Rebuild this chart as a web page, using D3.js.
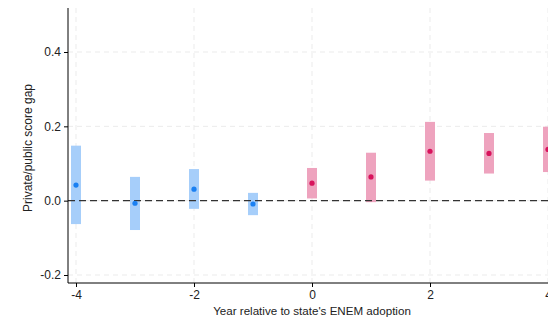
<!DOCTYPE html>
<html><head><meta charset="utf-8">
<script src="https://cdn.jsdelivr.net/npm/d3@7"></script>
<style>body{margin:0;overflow:hidden;background:#fff}svg{display:block;font-family:"Liberation Sans",Arial,sans-serif}</style>
</head><body><svg id="c" width="548" height="323"></svg>
<script>
const years = [-4,-3,-2,-1,0,1,2,3,4];
const estimates = [0.042,-0.007,0.031,-0.009,0.047,0.064,0.133,0.127,0.138];
const ciLow = [-0.063,-0.079,-0.022,-0.039,0.006,-0.004,0.054,0.073,0.077];
const ciHigh = [0.148,0.064,0.085,0.021,0.088,0.129,0.212,0.182,0.199];
const xTicks = [-4,-2,0,2,4];
const yTicks = [-0.2,0.0,0.2,0.4];

(function(){
const svg = d3.select("#c");
const x = d3.scaleLinear().domain([-4,4]).range([76,548]);
const y = d3.scaleLinear().domain([-0.2,0.4]).range([275,52]);
const mLeft = 68, mBottom = 283, mTop = 8;

svg.append("g").selectAll("line").data(yTicks).join("line")
  .attr("x1",mLeft).attr("x2",560).attr("y1",d=>y(d)).attr("y2",d=>y(d))
  .attr("stroke","#ebebeb").attr("stroke-dasharray","5,4");
svg.append("g").selectAll("line").data(xTicks).join("line")
  .attr("x1",d=>x(d)).attr("x2",d=>x(d)).attr("y1",mTop).attr("y2",mBottom)
  .attr("stroke","#ebebeb").attr("stroke-dasharray","5,4");

svg.append("g").selectAll("rect").data(years).join("rect")
  .attr("x",(d)=>x(d)-5).attr("width",10)
  .attr("y",(d,i)=>y(ciHigh[i])).attr("height",(d,i)=>y(ciLow[i])-y(ciHigh[i]))
  .attr("fill",d=>d<0?"#a6cefa":"#eea3be");

svg.append("line").attr("x1",mLeft).attr("x2",560).attr("y1",y(0)).attr("y2",y(0))
  .attr("stroke","#333").attr("stroke-width",1.2).attr("stroke-dasharray","7,4");

svg.append("g").selectAll("circle").data(years).join("circle")
  .attr("cx",d=>x(d)).attr("cy",(d,i)=>y(estimates[i])).attr("r",2.6)
  .attr("fill",d=>d<0?"#1a80f2":"#d8135c");

const hy = f => d => f(d).replace("\u2212","-");
const ya = svg.append("g").attr("transform",`translate(${mLeft},0)`)
  .call(d3.axisLeft(y).tickValues(yTicks).tickFormat(hy(d3.format(".1f"))).tickSize(4).tickSizeOuter(0));
ya.select(".domain").attr("d",`M0,${mTop}V${mBottom}`).attr("stroke","#000");
const xa = svg.append("g").attr("transform",`translate(0,${mBottom})`)
  .call(d3.axisBottom(x).tickValues(xTicks).tickFormat(hy(d3.format("d"))).tickSize(4).tickSizeOuter(0));
xa.select(".domain").attr("d",`M${mLeft},0H560`).attr("stroke","#000");
svg.selectAll(".tick text").attr("font-size",12).attr("fill","#222").attr("font-family","'Liberation Sans',Arial,sans-serif");
svg.selectAll(".tick line").attr("stroke","#000");

svg.append("text").attr("transform","translate(32,148) rotate(-90)").attr("text-anchor","middle")
  .attr("font-size",12).attr("fill","#222").text("Private/public score gap");
svg.append("text").attr("x",312).attr("y",315).attr("text-anchor","middle")
  .attr("font-size",11.6).attr("fill","#222").text("Year relative to state's ENEM adoption");
})();
</script></body></html>
